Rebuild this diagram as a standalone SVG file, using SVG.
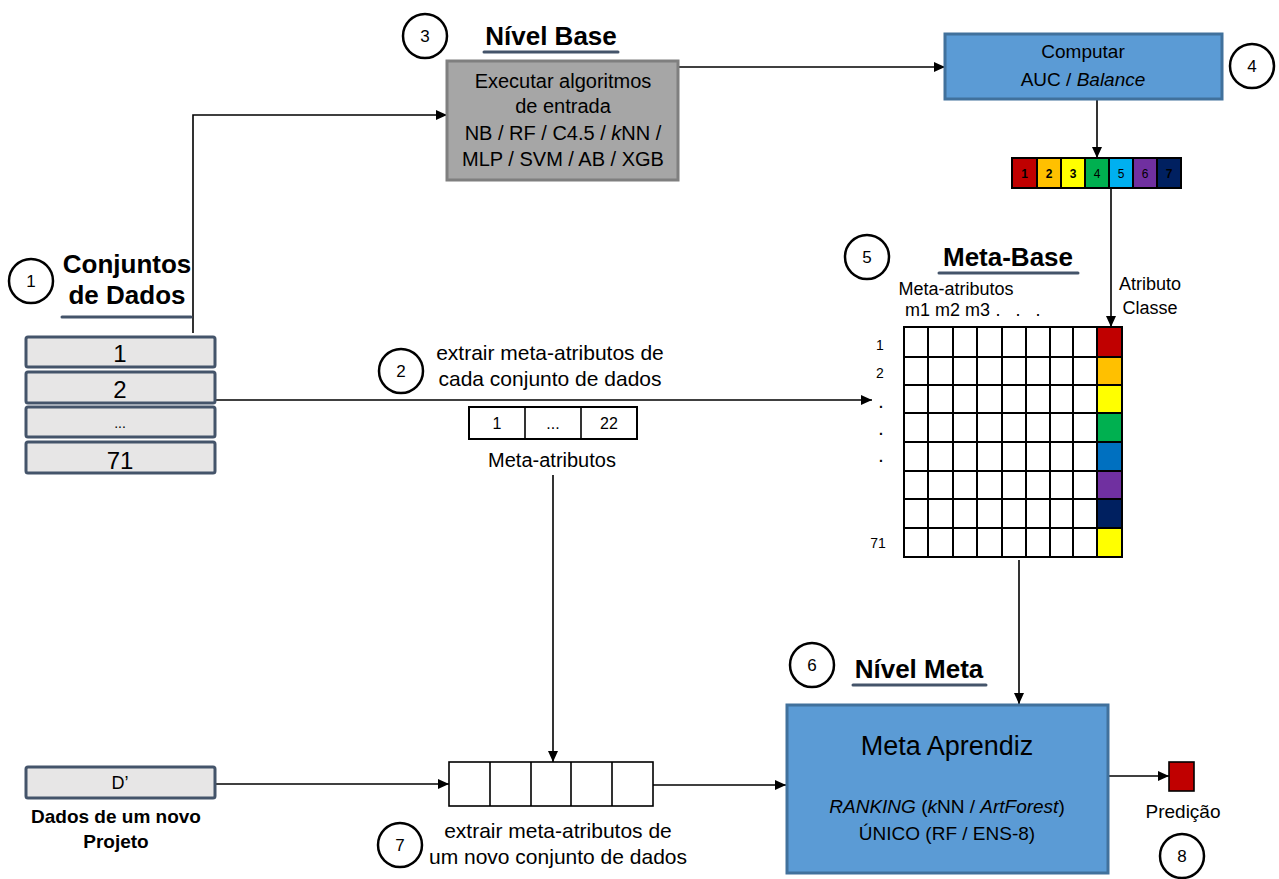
<svg xmlns="http://www.w3.org/2000/svg" width="1279" height="879" viewBox="0 0 1279 879">
  <style>
    text { font-family: "Liberation Sans", Arial, sans-serif; fill: #000; }
    .mid { text-anchor: middle; }
    .title { font-size: 26px; font-weight: bold; }
    .uline { stroke: #44546a; stroke-width: 3; stroke-linecap: round; }
    .num { fill: #fff; stroke: #000; stroke-width: 2.5; }
    .numtxt { font-size: 17px; text-anchor: middle; }
    .ds { fill: #e7e6e6; stroke: #44546a; stroke-width: 3; }
    .blue { fill: #5b9bd5; stroke: #41719c; stroke-width: 3; }
    .cell { fill: #fff; stroke: #000; stroke-width: 2; }
    .conn { fill: none; stroke: #000; stroke-width: 1.6; marker-end: url(#arrow); }
    .lbl { font-size: 19px; text-anchor: middle; }
  </style>
  <defs>
    <marker id="arrow" markerUnits="userSpaceOnUse" markerWidth="12" markerHeight="10" refX="11" refY="5" orient="auto">
      <path d="M0,0 L11,5 L0,10 z" fill="#000"/>
    </marker>
  </defs>

  <!-- connectors -->
  <g id="connectors">
    <path class="conn" d="M193,333 V115 H447"/>
    <path class="conn" d="M679,67 H945"/>
    <path class="conn" d="M1097,100 V158"/>
    <path class="conn" d="M1111,189 V327"/>
    <path class="conn" d="M216,400 H872"/>
    <path class="conn" d="M553,475 V762"/>
    <path class="conn" d="M216,784 H449"/>
    <path class="conn" d="M653,785 H786"/>
    <path class="conn" d="M1019,560 V704"/>
    <path class="conn" d="M1108,776 H1169"/>
  </g>

  <!-- 1: datasets -->
  <g id="datasets">
    <circle class="num" cx="31" cy="281" r="22"/>
    <text class="numtxt" x="31" y="287">1</text>
    <text class="title mid" x="127" y="273">Conjuntos</text>
    <text class="title mid" x="127" y="304">de Dados</text>
    <line class="uline" x1="62" y1="317" x2="191" y2="317"/>
    <rect class="ds" x="26" y="337" width="189" height="30" rx="2"/>
    <rect class="ds" x="26" y="372" width="189" height="31" rx="2"/>
    <rect class="ds" x="26" y="407" width="189" height="30" rx="2"/>
    <rect class="ds" x="26" y="442" width="189" height="31" rx="2"/>
    <text class="mid" x="120" y="362" font-size="24">1</text>
    <text class="mid" x="120" y="398" font-size="24">2</text>
    <text class="mid" x="120" y="428" font-size="14">...</text>
    <text class="mid" x="120" y="469" font-size="24">71</text>
  </g>

  <!-- 2: extraction of meta-features -->
  <g id="extract">
    <circle class="num" cx="401" cy="371" r="22"/>
    <text class="numtxt" x="401" y="377">2</text>
    <text class="mid" x="550" y="360" font-size="21">extrair meta-atributos de</text>
    <text class="mid" x="550" y="386" font-size="21">cada conjunto de dados</text>
    <rect class="cell" x="469" y="407" width="168" height="32" stroke-width="1.6"/>
    <line x1="525" y1="407" x2="525" y2="439" stroke="#000" stroke-width="1.6"/>
    <line x1="581" y1="407" x2="581" y2="439" stroke="#000" stroke-width="1.6"/>
    <text class="mid" x="497" y="429" font-size="16">1</text>
    <text class="mid" x="553" y="429" font-size="16">...</text>
    <text class="mid" x="609" y="429" font-size="16">22</text>
    <text class="mid" x="552" y="467" font-size="20">Meta-atributos</text>
  </g>

  <!-- 3: base level -->
  <g id="base-level">
    <circle class="num" cx="425" cy="36" r="22"/>
    <text class="numtxt" x="425" y="42">3</text>
    <text class="title mid" x="551" y="45">Nível Base</text>
    <line class="uline" x1="484" y1="52" x2="618" y2="52"/>
    <rect x="447" y="61" width="231" height="119" fill="#a6a6a6" stroke="#7f7f7f" stroke-width="3"/>
    <text class="mid" x="563" y="88" font-size="20">Executar algoritmos</text>
    <text class="mid" x="563" y="113" font-size="20">de entrada</text>
    <text class="mid" x="563" y="140" font-size="20">NB / RF / C4.5 / <tspan font-style="italic">k</tspan>NN /</text>
    <text class="mid" x="563" y="166" font-size="20">MLP / SVM / AB / XGB</text>
  </g>

  <!-- 4: performance computation -->
  <g id="compute">
    <rect class="blue" x="945" y="34" width="277" height="65"/>
    <text class="mid" x="1083" y="58" font-size="19">Computar</text>
    <text class="mid" x="1083" y="86" font-size="19">AUC / <tspan font-style="italic">Balance</tspan></text>
    <circle class="num" cx="1252" cy="66" r="22"/>
    <text class="numtxt" x="1252" y="72">4</text>
  </g>

  <!-- class ranking bar -->
  <g id="class-bar" font-size="12">
    <rect x="1012" y="158" width="25" height="30" fill="#c00000" stroke="#000" stroke-width="2"/>
    <rect x="1037" y="158" width="24" height="30" fill="#ffc000" stroke="#000" stroke-width="2"/>
    <rect x="1061" y="158" width="24" height="30" fill="#ffff00" stroke="#000" stroke-width="2"/>
    <rect x="1085" y="158" width="24" height="30" fill="#00b050" stroke="#000" stroke-width="2"/>
    <rect x="1109" y="158" width="24" height="30" fill="#00b0f0" stroke="#000" stroke-width="2"/>
    <rect x="1133" y="158" width="24" height="30" fill="#7030a0" stroke="#000" stroke-width="2"/>
    <rect x="1157" y="158" width="24" height="30" fill="#002060" stroke="#000" stroke-width="2"/>
    <text class="mid" x="1024.5" y="178" font-weight="bold">1</text>
    <text class="mid" x="1049" y="178" font-weight="bold">2</text>
    <text class="mid" x="1073" y="178" font-weight="bold">3</text>
    <text class="mid" x="1097" y="178" fill="#1a3a1a">4</text>
    <text class="mid" x="1121" y="178" fill="#1a2a3a">5</text>
    <text class="mid" x="1145" y="178" fill="#2a1040">6</text>
    <text class="mid" x="1169" y="178" font-weight="bold" fill="#000">7</text>
  </g>

  <!-- 5: meta-base -->
  <g id="meta-base">
    <circle class="num" cx="867" cy="257" r="22"/>
    <text class="numtxt" x="867" y="263">5</text>
    <text class="title mid" x="1008" y="266">Meta-Base</text>
    <line class="uline" x1="939" y1="273" x2="1078" y2="273"/>
    <text class="mid" x="956" y="295" font-size="18">Meta-atributos</text>
    <text x="905" y="316" font-size="18">m1 m2 m3</text>
    <text class="mid" x="998" y="316" font-size="18">.</text>
    <text class="mid" x="1018" y="316" font-size="18">.</text>
    <text class="mid" x="1038" y="316" font-size="18">.</text>
    <text class="mid" x="1150" y="290" font-size="18">Atributo</text>
    <text class="mid" x="1150" y="314" font-size="18">Classe</text>
    <!-- class column -->
    <rect x="1097" y="327" width="25" height="30" fill="#c00000"/>
    <rect x="1097" y="357" width="25" height="28" fill="#ffc000"/>
    <rect x="1097" y="385" width="25" height="28" fill="#ffff00"/>
    <rect x="1097" y="413" width="25" height="29" fill="#00b050"/>
    <rect x="1097" y="442" width="25" height="29" fill="#0070c0"/>
    <rect x="1097" y="471" width="25" height="28" fill="#7030a0"/>
    <rect x="1097" y="499" width="25" height="29" fill="#002060"/>
    <rect x="1097" y="528" width="25" height="29" fill="#ffff00"/>
    <!-- grid -->
    <g stroke="#000" stroke-width="2" fill="none">
      <rect x="904" y="327" width="218" height="230"/>
      <path d="M928,327 V557 M953,327 V557 M977,327 V557 M1002,327 V557 M1026,327 V557 M1050,327 V557 M1073,327 V557 M1097,327 V557"/>
      <path d="M904,357 H1122 M904,385 H1122 M904,413 H1122 M904,442 H1122 M904,471 H1122 M904,499 H1122 M904,528 H1122"/>
    </g>
    <g font-size="14">
      <text class="mid" x="880" y="350">1</text>
      <text class="mid" x="880" y="378">2</text>
      <text class="mid" x="881" y="408" font-weight="bold">.</text>
      <text class="mid" x="881" y="435" font-weight="bold">.</text>
      <text class="mid" x="881" y="462" font-weight="bold">.</text>
      <text class="mid" x="878" y="548">71</text>
    </g>
  </g>

  <!-- 6: meta level -->
  <g id="meta-level">
    <circle class="num" cx="812" cy="665" r="22"/>
    <text class="numtxt" x="812" y="671">6</text>
    <text class="title mid" x="919" y="678">Nível Meta</text>
    <line class="uline" x1="853" y1="685" x2="986" y2="685"/>
    <rect class="blue" x="787" y="705" width="321" height="168"/>
    <text class="mid" x="947" y="755" font-size="27">Meta Aprendiz</text>
    <text class="mid" x="947" y="813" font-size="19"><tspan font-style="italic">RANKING</tspan> (<tspan font-style="italic">k</tspan>NN / <tspan font-style="italic">ArtForest</tspan>)</text>
    <text class="mid" x="947" y="840" font-size="19">ÚNICO (RF / ENS-8)</text>
  </g>

  <!-- 7: new project -->
  <g id="new-project">
    <rect class="ds" x="26" y="767" width="189" height="31" rx="2"/>
    <text class="mid" x="120" y="789" font-size="18">D’</text>
    <text class="mid" x="116" y="823" font-size="19" font-weight="bold">Dados de um novo</text>
    <text class="mid" x="116" y="848" font-size="19" font-weight="bold">Projeto</text>
    <g stroke="#000" stroke-width="1.6" fill="#fff">
      <rect x="449" y="762" width="204" height="44"/>
      <path d="M490,762 V806 M531,762 V806 M571,762 V806 M612,762 V806" fill="none"/>
    </g>
    <circle class="num" cx="400" cy="845" r="22"/>
    <text class="numtxt" x="400" y="851">7</text>
    <text class="mid" x="558" y="838" font-size="21">extrair meta-atributos de</text>
    <text class="mid" x="558" y="864" font-size="21">um novo conjunto de dados</text>
  </g>

  <!-- 8: prediction -->
  <g id="prediction">
    <rect x="1169" y="762" width="25" height="29" fill="#c00000" stroke="#000" stroke-width="1.6"/>
    <text class="lbl" x="1183" y="818">Predição</text>
    <circle class="num" cx="1182" cy="856" r="22"/>
    <text class="numtxt" x="1182" y="862">8</text>
  </g>
</svg>
